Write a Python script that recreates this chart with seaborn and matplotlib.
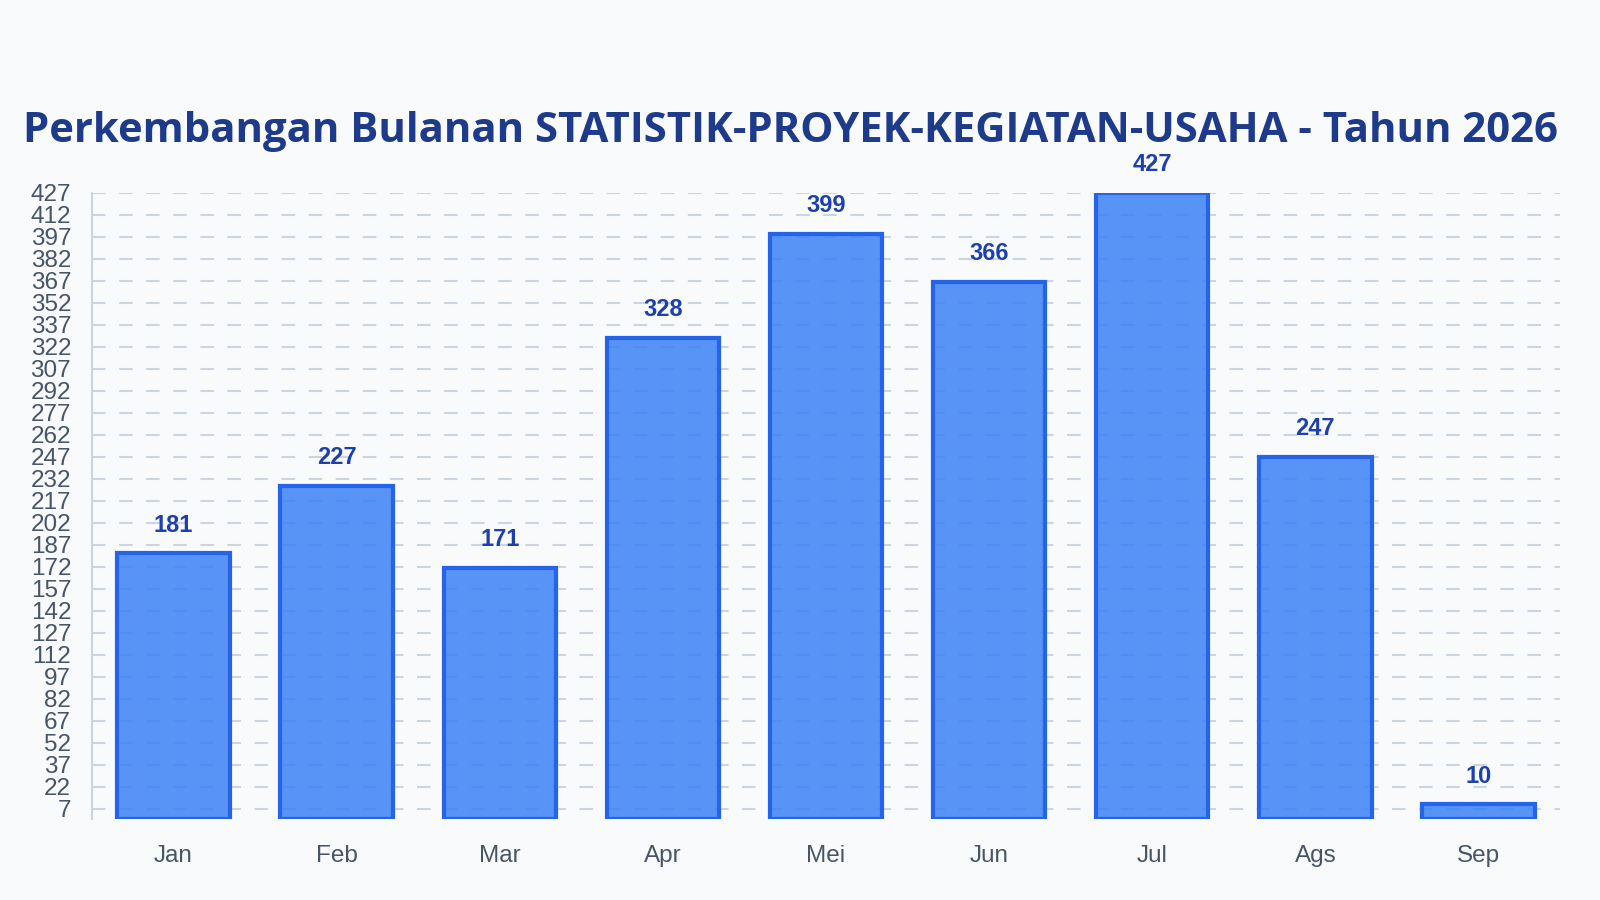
import numpy as np
import pandas as pd
import matplotlib
matplotlib.use("Agg")
import matplotlib.pyplot as plt
import seaborn as sns

# chart data
months = ["Jan", "Feb", "Mar", "Apr", "Mei", "Jun", "Jul", "Ags", "Sep"]
counts = [181, 227, 171, 328, 399, 366, 427, 247, 10]
y_ticks = list(range(7, 428, 15))

title = "Perkembangan Bulanan STATISTIK-PROYEK-KEGIATAN-USAHA - Tahun 2026"

BG = "#f8fafc"

sns.set_theme(style="white")
plt.rcParams["font.family"] = ["Liberation Sans", "DejaVu Sans"]

data = pd.DataFrame({"bulan": months, "jumlah": counts})

fig = plt.figure(figsize=(16, 9), dpi=100, facecolor=BG)
ax = fig.add_axes([0.0575, 0.09, 0.9175, 0.696])
ax.set_facecolor(BG)

sns.barplot(data=data, x="bulan", y="jumlah", ax=ax, color="#3b82f6",
            saturation=1, width=0.69, linewidth=3, zorder=3)
for p in ax.patches:
    p.set_facecolor((59 / 255, 130 / 255, 246 / 255, 0.85))
    p.set_edgecolor("#2563eb")

ax.set_ylim(0, 427)
ax.set_xlim(-0.5, len(months) - 0.5)
ax.set_yticks(y_ticks)
ax.yaxis.grid(True, linestyle=(0, (6.5, 6.5)), color="#cbd5e1", linewidth=1.5, zorder=0)
ax.set_axisbelow(True)

for s in ["top", "right", "bottom"]:
    ax.spines[s].set_visible(False)
ax.spines["left"].set_color("#cbd5e1")
ax.spines["left"].set_linewidth(1.5)

ax.tick_params(axis="y", length=10, width=1.5, color="#cbd5e1",
               labelsize=17.5, labelcolor="#475569", pad=5)
ax.tick_params(axis="x", length=0, labelsize=17.5, labelcolor="#475569", pad=19)
ax.set_xlabel("")
ax.set_ylabel("")

for i, v in enumerate(counts):
    ax.annotate(str(v), xy=(i, v), xytext=(0, 12), textcoords="offset points",
                ha="center", va="bottom", fontsize=17, fontweight="bold",
                color="#1e40af", annotation_clip=False)

fig.text(0.494, 0.854, title, ha="center", va="center", fontsize=30.2,
         fontweight="bold", color="#1e3a8a", family=["Open Sans", "DejaVu Sans"])

fig.savefig("out.png", dpi=100, facecolor=BG)
